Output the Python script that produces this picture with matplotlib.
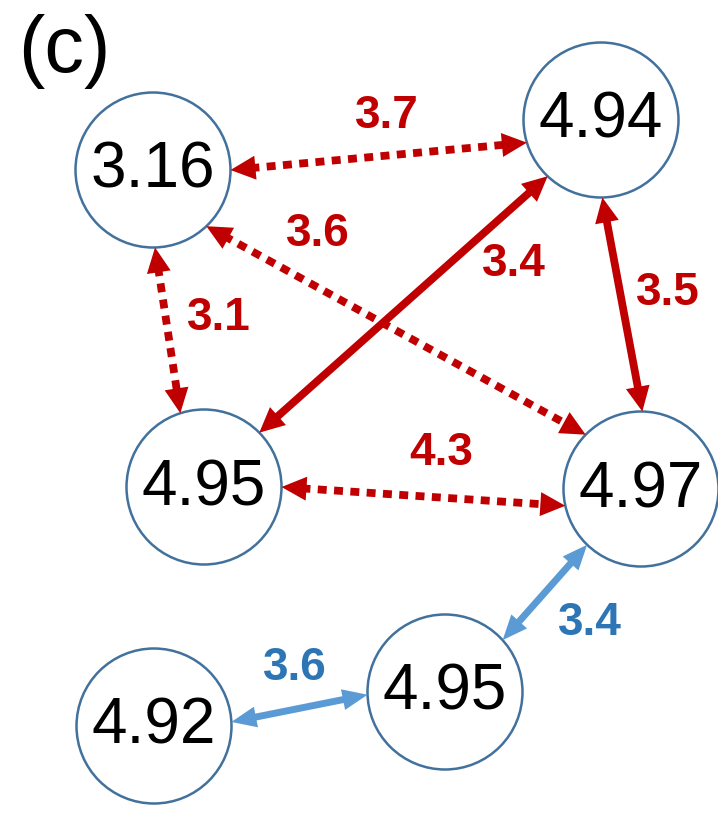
import numpy as np
import matplotlib
matplotlib.use("Agg")
import matplotlib.pyplot as plt
from matplotlib.patches import Circle, Polygon

# ---- data ----
node_labels = ["3.16", "4.94", "4.95", "4.97", "4.95", "4.92"]
node_x = [153, 601, 204, 641, 445, 154]
node_y = [170, 120, 487, 489, 692, 726]
node_r = 77.5

edge_src = [0, 0, 0, 2, 1, 2, 3, 5]
edge_dst = [1, 3, 2, 1, 3, 3, 4, 4]
edge_values = ["3.7", "3.6", "3.1", "3.4", "3.5", "4.3", "3.4", "3.6"]
edge_group = ["red", "red", "red", "red", "red", "red", "blue", "blue"]
edge_dotted = [True, True, True, False, False, True, False, False]
# angles (deg, image coords) where the arrow tips touch each circle
edge_src_ang = [0, 46.5, 88.5, -44.5, 89, 0, 134, -3]
edge_dst_ang = [163, -135.5, -107.8, 133.5, -89, 167.5, -42, 178]
label_x = [387, 318, 219, 514, 668, 441, 590, 295]
label_y = [116, 234, 318, 264, 293, 453, 623, 668]

line_col = {"red": "#C00000", "blue": "#5B9BD5"}
text_col = {"red": "#C00000", "blue": "#2E75B6"}

W, H = 718, 814
fig = plt.figure(figsize=(W / 100, H / 100), dpi=100)
ax = fig.add_axes([0, 0, 1, 1])
ax.set_xlim(0, W)
ax.set_ylim(H, 0)
ax.set_aspect("equal")
ax.axis("off")

FONT = "Liberation Sans"

# nodes
for lab, x, y in zip(node_labels, node_x, node_y):
    ax.add_patch(Circle((x, y), node_r, facecolor="white", edgecolor="#41719C",
                        lw=1.8, zorder=2))
    ax.text(x, y + 1, lab, ha="center", va="center", fontsize=46,
            family=FONT, color="black", zorder=5)

def head(tip, u, hl, hw, col):
    base = tip + u * hl
    n = np.array([-u[1], u[0]])
    pts = [tip, base + n * hw / 2, base - n * hw / 2]
    ax.add_patch(Polygon(pts, closed=True, facecolor=col, edgecolor="none", zorder=4))

for s, d, val, g, dot, a0, a1, lx, ly in zip(edge_src, edge_dst, edge_values, edge_group,
                                             edge_dotted, edge_src_ang, edge_dst_ang,
                                             label_x, label_y):
    c0 = np.array([node_x[s], node_y[s]], float)
    c1 = np.array([node_x[d], node_y[d]], float)
    p0 = c0 + node_r * np.array([np.cos(np.radians(a0)), np.sin(np.radians(a0))])
    p1 = c1 + node_r * np.array([np.cos(np.radians(a1)), np.sin(np.radians(a1))])
    u = (p1 - p0) / np.linalg.norm(p1 - p0)
    col = line_col[g]
    hl, hw = 25, 24
    if g == "blue":
        hl, hw = 25, 21
    q0 = p0 + u * hl * 0.8
    q1 = p1 - u * hl * 0.8
    if dot:
        ax.plot([q0[0], q1[0]], [q0[1], q1[1]], color=col, lw=5.6,
                dashes=(1.15, 0.95), solid_capstyle="butt", dash_capstyle="butt", zorder=3)
    else:
        lw = 5.6 if g == "red" else 5.0
        ax.plot([q0[0], q1[0]], [q0[1], q1[1]], color=col, lw=lw,
                solid_capstyle="butt", zorder=3)
    head(p0, u, hl, hw, col)
    head(p1, -u, hl, hw, col)
    ax.text(lx, ly, val, ha="center", va="center", fontsize=33, fontweight="bold",
            family=FONT, color=text_col[g], zorder=5)

ax.text(18, 72, "(c)", ha="left", va="baseline", fontsize=57, family=FONT, color="black")

fig.savefig("out.png", dpi=100)
